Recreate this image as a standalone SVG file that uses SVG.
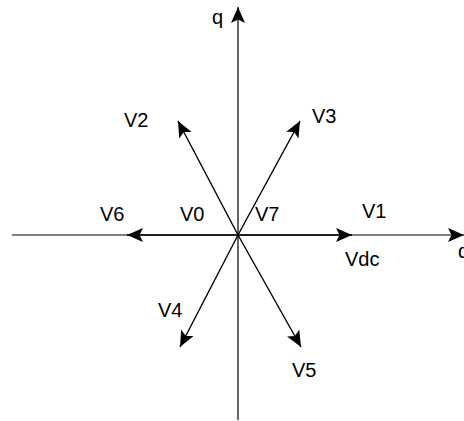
<svg xmlns="http://www.w3.org/2000/svg" width="464" height="421" viewBox="0 0 464 421">
<style>
.ax{stroke:#000;stroke-width:1.2;fill:none}
.vec{stroke:#000;stroke-width:1.4;fill:none}
text{font-family:"Liberation Sans",Arial,sans-serif;font-size:20px;fill:#000}
</style>
<defs>
<marker id="ah" markerUnits="userSpaceOnUse" markerWidth="17" markerHeight="15" refX="16" refY="7" orient="auto">
<path d="M0,0 L16,7 L0,14 L3.5,7 Z" fill="#000"/>
</marker>
</defs>
<g id="connectors">
<line class="ax" x1="12" y1="235" x2="464" y2="235" marker-end="url(#ah)"/>
<line class="ax" x1="238" y1="420" x2="238" y2="7" marker-end="url(#ah)"/>
<line class="vec" x1="238" y1="235" x2="352" y2="235" marker-end="url(#ah)"/>
<line class="vec" x1="238" y1="235" x2="127" y2="235" marker-end="url(#ah)"/>
<line class="vec" x1="238" y1="235" x2="178" y2="121" marker-end="url(#ah)"/>
<line class="vec" x1="238" y1="235" x2="300" y2="121" marker-end="url(#ah)"/>
<line class="vec" x1="238" y1="235" x2="180" y2="347" marker-end="url(#ah)"/>
<line class="vec" x1="238" y1="235" x2="301" y2="347" marker-end="url(#ah)"/>
</g>
<g id="labels">
<text x="212" y="24">q</text>
<text x="458" y="258">d</text>
<text x="124" y="127">V2</text>
<text x="312" y="123">V3</text>
<text x="100" y="221">V6</text>
<text x="180" y="221">V0</text>
<text x="255" y="221">V7</text>
<text x="362" y="218">V1</text>
<text x="345" y="266">Vdc</text>
<text x="158" y="317">V4</text>
<text x="292" y="377">V5</text>
</g>
</svg>
